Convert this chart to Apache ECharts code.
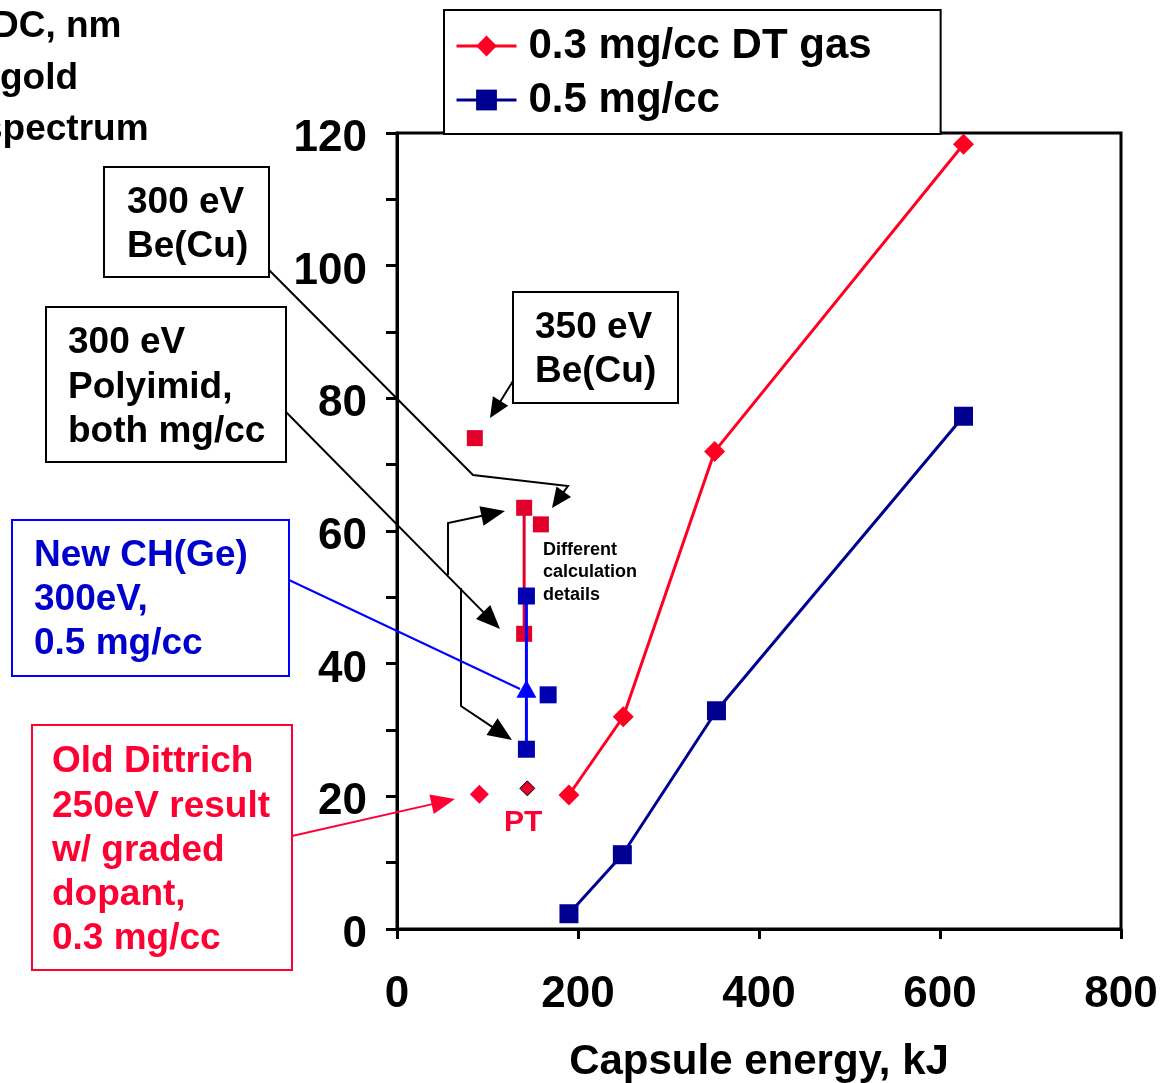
<!DOCTYPE html>
<html>
<head>
<meta charset="utf-8">
<script src="https://cdn.jsdelivr.net/npm/echarts@6/dist/echarts.min.js"></script>
<style>
html,body{margin:0;padding:0;background:#fff;}
#chart{width:1165px;height:1083px;}
</style>
</head>
<body>
<div id="chart"></div>
<script>
// ---- data ----
var xTicks = [0, 200, 400, 600, 800];
var yTicks = [0, 20, 40, 60, 80, 100, 120];
var seriesNames = ['0.3 mg/cc DT gas', '0.5 mg/cc'];
var gas03 = [[190, 20.2], [250, 32], [351, 72], [626, 118.3]];
var gas05 = [[190, 2.3], [249, 11.2], [353, 32.9], [626, 77.3]];
var redVertical = [[140.5, 63.5], [140.5, 44.5]];
var blueVertical = [[143, 50.2], [143, 27.1]];
var blueTriangle = [[143, 36.2]];
var redSquares = [[86, 74], [159, 61]];
var blueSquares = [[167, 35.3]];
var dittrich = [[91, 20.3]];
var ptPoint = [[144, 21.2]];

var FONT = '"Liberation Sans", Arial, sans-serif';
var RED = '#FF0022';
var NAVY = '#000090';
var CRIMSON = '#E0002A';

function arrow(pts, color, lw, head, hw) {
  var n = pts.length;
  var tip = pts[n - 1], prev = pts[n - 2];
  var dx = tip[0] - prev[0], dy = tip[1] - prev[1];
  var L = Math.sqrt(dx * dx + dy * dy);
  var ux = dx / L, uy = dy / L;
  var bx = tip[0] - ux * head, by = tip[1] - uy * head;
  var linePts = pts.slice(0, n - 1).concat([[bx + ux * 2, by + uy * 2]]);
  return [
    {type: 'polyline', shape: {points: linePts}, style: {stroke: color, lineWidth: lw, fill: null}, z: 50},
    {type: 'polygon', shape: {points: [tip, [bx - uy * hw / 2, by + ux * hw / 2], [bx + uy * hw / 2, by - ux * hw / 2]]},
      style: {fill: color, stroke: null}, z: 50}
  ];
}

function textBox(x, y, w, h, lines, tx, ty, lh, color, border, fs) {
  var els = [{type: 'rect', shape: {x: x, y: y, width: w, height: h},
    style: {fill: '#fff', stroke: border, lineWidth: 2}, z: 40}];
  lines.forEach(function (t, i) {
    els.push({type: 'text', x: tx, y: ty + i * lh, z: 41,
      style: {text: t, fill: color, font: 'bold ' + fs + 'px ' + FONT, textVerticalAlign: 'middle', textAlign: 'left'}});
  });
  return els;
}

var graphics = [];
// y-axis title (clipped at left edge)
[['DC, nm', -8, 27], ['gold', 0, 79], ['spectrum', -18, 130]].forEach(function (a) {
  graphics.push({type: 'text', x: a[1], y: a[2], z: 41,
    style: {text: a[0], fill: '#000', font: 'bold 37px ' + FONT, textVerticalAlign: 'middle'}});
});
graphics = graphics
  .concat(textBox(104, 167, 165, 110, ['300 eV', 'Be(Cu)'], 127, 203, 44, '#000', '#000', 37))
  .concat(textBox(46, 307, 240, 155, ['300 eV', 'Polyimid,', 'both mg/cc'], 68, 343, 44.5, '#000', '#000', 37))
  .concat(textBox(513, 292, 165, 111, ['350 eV', 'Be(Cu)'], 535, 328, 44, '#000', '#000', 37))
  .concat(textBox(12, 520, 277, 156, ['New CH(Ge)', '300eV,', '0.5 mg/cc'], 34, 556, 44, '#0000CC', '#0000FF', 37))
  .concat(textBox(32, 725, 260, 245, ['Old Dittrich', '250eV result', 'w/ graded', 'dopant,', '0.3 mg/cc'], 52, 762, 44.3, '#FF0033', '#FF0033', 37));

graphics = graphics
  .concat(arrow([[269, 270], [473, 475], [568, 486], [552, 508]], '#000', 2, 20, 18))
  .concat(arrow([[286, 412], [500, 629]], '#000', 2, 24, 20))
  .concat(arrow([[448, 575], [448, 523], [505, 511]], '#000', 2, 24, 20))
  .concat(arrow([[461, 588], [461, 706], [512, 740]], '#000', 2, 24, 20))
  .concat(arrow([[513, 381], [490, 418]], '#000', 2, 20, 18))
  .concat(arrow([[292, 836], [455, 799]], '#FF0033', 2, 24, 20));
graphics.push({type: 'polyline', shape: {points: [[289, 580], [520, 689]]}, style: {stroke: '#0000FF', lineWidth: 2, fill: null}, z: 50});

['Different', 'calculation', 'details'].forEach(function (t, i) {
  graphics.push({type: 'text', x: 543, y: 550 + i * 22.5, z: 41,
    style: {text: t, fill: '#000', font: 'bold 18px ' + FONT, textVerticalAlign: 'middle'}});
});
graphics.push({type: 'text', x: 504, y: 823, z: 41,
  style: {text: 'PT', fill: '#FF0033', font: 'bold 30px ' + FONT, textVerticalAlign: 'middle'}});

var chart = echarts.init(document.getElementById('chart'), null, {renderer: 'canvas'});
chart.setOption({
  animation: false,
  backgroundColor: '#fff',
  textStyle: {fontFamily: FONT},
  grid: {left: 397, right: 44, top: 133, bottom: 154, show: true, borderColor: '#000', borderWidth: 3,
    containLabel: false, outerBoundsMode: 'none'},
  legend: {
    data: seriesNames,
    orient: 'vertical', left: 444, top: 10,
    padding: [14, 69, 12, 11], itemGap: 10, itemWidth: 60, itemHeight: 26,
    borderColor: '#000', borderWidth: 2, backgroundColor: '#fff',
    lineStyle: {width: 3},
    textStyle: {fontSize: 42, fontWeight: 'bold', color: '#000', fontFamily: FONT, lineHeight: 44, padding: [0, 0, 0, 7]},
    z: 60
  },
  xAxis: {
    type: 'value', min: 0, max: 800, interval: 200,
    name: 'Capsule energy, kJ', nameLocation: 'middle', nameGap: 112,
    nameTextStyle: {fontSize: 42, fontWeight: 'bold', color: '#000', fontFamily: FONT},
    axisLine: {show: true, onZero: false, lineStyle: {color: '#000', width: 3}},
    axisTick: {show: true, length: 10, lineStyle: {color: '#000', width: 3}},
    axisLabel: {fontSize: 44, fontWeight: 'bold', color: '#000', margin: 44, fontFamily: FONT,
      formatter: function (v) { return xTicks.indexOf(v) >= 0 ? String(v) : ''; }},
    splitLine: {show: false}
  },
  yAxis: {
    type: 'value', min: 0, max: 120, interval: 10,
    axisLine: {show: true, onZero: false, lineStyle: {color: '#000', width: 3}},
    axisTick: {show: true, length: 11, lineStyle: {color: '#000', width: 3}},
    axisLabel: {fontSize: 44, fontWeight: 'bold', color: '#000', margin: 30, fontFamily: FONT,
      verticalAlign: 'top', lineHeight: 12,
      formatter: function (v) { return yTicks.indexOf(v) >= 0 ? String(v) : ''; }},
    splitLine: {show: false}
  },
  graphic: graphics,
  series: [
    {name: seriesNames[0], type: 'line', data: gas03, symbol: 'diamond', symbolSize: 21,
      lineStyle: {color: RED, width: 3}, itemStyle: {color: RED}, z: 10},
    {name: seriesNames[1], type: 'line', data: gas05, symbol: 'rect', symbolSize: 19,
      lineStyle: {color: NAVY, width: 3}, itemStyle: {color: NAVY}, z: 10},
    {name: 'red vertical', type: 'line', data: redVertical, symbol: 'rect', symbolSize: 16,
      lineStyle: {color: CRIMSON, width: 3}, itemStyle: {color: CRIMSON}, z: 11},
    {name: 'blue vertical', type: 'line', data: blueVertical, symbol: 'rect', symbolSize: 17,
      lineStyle: {color: '#0000FF', width: 3}, itemStyle: {color: '#0000B0'}, z: 12},
    {name: 'blue triangle', type: 'scatter', data: blueTriangle, symbol: 'triangle', symbolSize: [20, 18],
      itemStyle: {color: '#0000FF', opacity: 1}, z: 13},
    {name: 'red squares', type: 'scatter', data: redSquares, symbol: 'rect', symbolSize: 16,
      itemStyle: {color: CRIMSON, opacity: 1}, z: 11},
    {name: 'blue squares', type: 'scatter', data: blueSquares, symbol: 'rect', symbolSize: 17,
      itemStyle: {color: '#0000B0', opacity: 1}, z: 11},
    {name: 'Dittrich', type: 'scatter', data: dittrich, symbol: 'diamond', symbolSize: 19,
      itemStyle: {color: '#FF0033', opacity: 1}, z: 11},
    {name: 'PT', type: 'scatter', data: ptPoint, symbol: 'diamond', symbolSize: 15,
      itemStyle: {color: '#E8002A', borderColor: '#000', borderWidth: 1, opacity: 1}, z: 11}
  ]
});
</script>
</body>
</html>
